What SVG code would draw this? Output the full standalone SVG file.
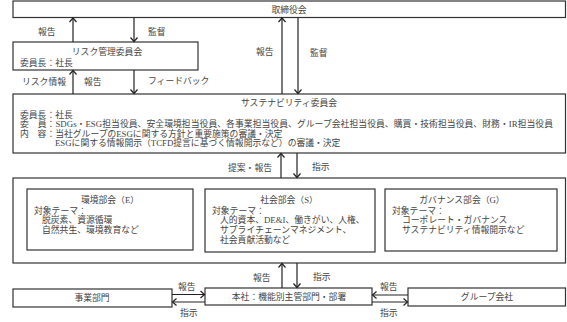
<svg xmlns="http://www.w3.org/2000/svg" width="567" height="322" viewBox="0 0 567 322">
<style>
.bx{fill:#fff;stroke:#333;stroke-width:1.2}
.t{font-family:"Liberation Serif","Noto Sans CJK JP",serif;font-size:8.8px;fill:#444}
.c{text-anchor:middle}
.ar{fill:none;stroke:#222;stroke-width:1.2;marker-end:url(#ah)}
</style>
<defs>
<marker id="ah" markerWidth="10" markerHeight="10" refX="5" refY="5" orient="auto" markerUnits="userSpaceOnUse" viewBox="0 0 10 10">
<path d="M1,1.5 L5,5 L1,8.5" fill="none" stroke="#222" stroke-width="1.2"/>
</marker>
</defs>
<rect width="567" height="322" fill="#fff"/>
<g id="board">
<rect class="bx" x="13" y="1" width="552.5" height="16.5"/>
<text class="t c" x="289" y="13">取締役会</text>
</g>
<g id="risk">
<rect class="bx" x="13" y="42" width="185" height="28"/>
<text class="t c" x="107" y="55">リスク管理委員会</text>
<text class="t" x="20" y="65.5">委員長：社長</text>
</g>
<g id="sustainability">
<rect class="bx" x="13" y="94" width="552.5" height="59"/>
<text class="t c" x="289" y="106">サステナビリティ委員会</text>
<text class="t" x="20" y="117.5">委員長：社長</text>
<text class="t" x="20" y="127" textLength="533" lengthAdjust="spacing">委　員：SDGs・ESG担当役員、安全環境担当役員、各事業担当役員、グループ会社担当役員、購買・技術担当役員、財務・IR担当役員</text>
<text class="t" x="20" y="136.5">内　容：当社グループのESGに関する方針と重要施策の審議・決定</text>
<text class="t" x="55" y="146">ESGに関する情報開示（TCFD提言に基づく情報開示など）の審議・決定</text>
</g>
<g id="subcommittees">
<rect class="bx" x="13" y="178" width="552.5" height="85"/>
</g>
<g id="env">
<rect class="bx" x="27" y="189" width="166" height="61"/>
<text class="t c" x="110" y="203">環境部会（E）</text>
<text class="t" x="34" y="213.5">対象テーマ：</text>
<text class="t" x="42" y="223">脱炭素、資源循環</text>
<text class="t" x="42" y="232.5">自然共生、環境教育など</text>
</g>
<g id="soc">
<rect class="bx" x="205" y="189" width="170" height="63"/>
<text class="t c" x="289" y="203">社会部会（S）</text>
<text class="t" x="212" y="213.5">対象テーマ：</text>
<text class="t" x="220" y="223.3">人的資本、DE&amp;I、働きがい、人権、</text>
<text class="t" x="220" y="233">サプライチェーンマネジメント、</text>
<text class="t" x="220" y="242.7">社会貢献活動など</text>
</g>
<g id="gov">
<rect class="bx" x="385" y="189" width="172" height="62"/>
<text class="t c" x="462" y="202.5">ガバナンス部会（G）</text>
<text class="t" x="392" y="213.5">対象テーマ：</text>
<text class="t" x="402" y="223.3">コーポレート・ガバナンス</text>
<text class="t" x="402" y="233">サステナビリティ情報開示など</text>
</g>
<g id="business">
<rect class="bx" x="13" y="289" width="159" height="18"/>
<text class="t c" x="92" y="301.3">事業部門</text>
</g>
<g id="hq">
<rect class="bx" x="205" y="288" width="167" height="17"/>
<text class="t c" x="289" y="299.8">本社：機能別主管部門・部署</text>
</g>
<g id="group">
<rect class="bx" x="408" y="288" width="157.5" height="18"/>
<text class="t c" x="487" y="300.3">グループ会社</text>
</g>
<g id="connectors">
<path class="ar" d="M73,42 V18"/>
<path class="ar" d="M134,17.5 V41.5"/>
<path class="ar" d="M73,94 V70.5"/>
<path class="ar" d="M134,70 V93.5"/>
<path class="ar" d="M282,94 V18"/>
<path class="ar" d="M298,17.5 V93.5"/>
<path class="ar" d="M281,178 V153.5"/>
<path class="ar" d="M297,153 V177.5"/>
<path class="ar" d="M282,288 V263.5"/>
<path class="ar" d="M297,263 V287.5"/>
<path class="ar" d="M172,294.5 H204.5"/>
<path class="ar" d="M205,302 H172.5"/>
<path class="ar" d="M408,295 H372.5"/>
<path class="ar" d="M372,302 H407.5"/>
<text class="t" x="38" y="35">報告</text>
<text class="t" x="148" y="35">監督</text>
<text class="t" x="22" y="85">リスク情報</text>
<text class="t" x="84" y="85">報告</text>
<text class="t" x="148" y="84">フィードバック</text>
<text class="t" x="256" y="55">報告</text>
<text class="t" x="310" y="55.5">監督</text>
<text class="t" x="228" y="170.5">提案・報告</text>
<text class="t" x="312" y="170">指示</text>
<text class="t" x="253" y="280.5">報告</text>
<text class="t" x="313" y="279.5">指示</text>
<text class="t" x="178" y="290">報告</text>
<text class="t" x="180" y="315.5">指示</text>
<text class="t" x="380" y="290">報告</text>
<text class="t" x="380" y="315.5">指示</text>
</g>
</svg>
